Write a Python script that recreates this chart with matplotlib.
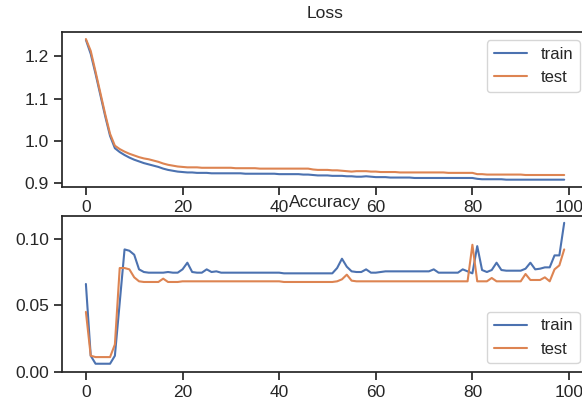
import matplotlib
matplotlib.use('Agg')
import matplotlib.pyplot as plt
import seaborn as sns

sns.set_theme(style='ticks', palette='deep')
plt.rcParams['font.family'] = ['Liberation Sans', 'DejaVu Sans']

epochs = list(range(100))

loss_train = [1.238, 1.205, 1.158, 1.108, 1.058, 1.012, 0.983, 0.974, 0.967, 0.961,
              0.956, 0.952, 0.948, 0.945, 0.942, 0.939, 0.935, 0.932, 0.930, 0.928,
              0.927, 0.926, 0.926, 0.925, 0.925, 0.925, 0.924, 0.924, 0.924, 0.924,
              0.924, 0.924, 0.924, 0.923, 0.923, 0.923, 0.923, 0.923, 0.923, 0.923,
              0.922, 0.922, 0.922, 0.922, 0.922, 0.921, 0.921, 0.920, 0.919, 0.919,
              0.919, 0.918, 0.918, 0.918, 0.917, 0.917, 0.916, 0.916, 0.917, 0.916,
              0.915, 0.915, 0.915, 0.914, 0.914, 0.914, 0.914, 0.914, 0.913, 0.913,
              0.913, 0.913, 0.913, 0.913, 0.913, 0.913, 0.913, 0.913, 0.913, 0.913,
              0.913, 0.911, 0.910, 0.910, 0.910, 0.910, 0.910, 0.909, 0.909, 0.909,
              0.909, 0.909, 0.909, 0.909, 0.909, 0.909, 0.909, 0.909, 0.909, 0.909]

loss_test = [1.240, 1.212, 1.163, 1.113, 1.063, 1.017, 0.989, 0.981, 0.975, 0.970,
             0.966, 0.962, 0.959, 0.957, 0.954, 0.951, 0.947, 0.944, 0.942, 0.940,
             0.939, 0.938, 0.938, 0.938, 0.937, 0.937, 0.937, 0.937, 0.937, 0.937,
             0.937, 0.936, 0.936, 0.936, 0.936, 0.936, 0.935, 0.935, 0.935, 0.935,
             0.935, 0.935, 0.935, 0.935, 0.935, 0.935, 0.935, 0.933, 0.932, 0.932,
             0.932, 0.931, 0.931, 0.930, 0.929, 0.928, 0.929, 0.929, 0.929, 0.928,
             0.928, 0.927, 0.927, 0.927, 0.927, 0.926, 0.926, 0.926, 0.926, 0.926,
             0.926, 0.926, 0.926, 0.926, 0.926, 0.925, 0.925, 0.925, 0.925, 0.925,
             0.925, 0.922, 0.922, 0.921, 0.921, 0.921, 0.921, 0.921, 0.921, 0.921,
             0.921, 0.920, 0.920, 0.920, 0.920, 0.920, 0.920, 0.920, 0.920, 0.920]

acc_train = [0.066, 0.012, 0.006, 0.006, 0.006, 0.006, 0.012, 0.052, 0.092, 0.091,
             0.088, 0.077, 0.075, 0.0745, 0.0745, 0.0745, 0.0745, 0.075, 0.0745, 0.0745,
             0.077, 0.082, 0.075, 0.0745, 0.0745, 0.077, 0.075, 0.0755, 0.0745, 0.0745,
             0.0745, 0.0745, 0.0745, 0.0745, 0.0745, 0.0745, 0.0745, 0.0745, 0.0745, 0.0745,
             0.0745, 0.074, 0.074, 0.074, 0.074, 0.074, 0.074, 0.074, 0.074, 0.074,
             0.074, 0.074, 0.078, 0.085, 0.079, 0.0755, 0.075, 0.075, 0.077, 0.0745,
             0.0745, 0.075, 0.0755, 0.0755, 0.0755, 0.0755, 0.0755, 0.0755, 0.0755, 0.0755,
             0.0755, 0.0755, 0.077, 0.0745, 0.0745, 0.0745, 0.0745, 0.0745, 0.077, 0.0755,
             0.074, 0.0945, 0.0765, 0.075, 0.0765, 0.082, 0.0765, 0.076, 0.076, 0.076,
             0.076, 0.0775, 0.082, 0.077, 0.0775, 0.0785, 0.0785, 0.0875, 0.0875, 0.112]

acc_test = [0.045, 0.012, 0.011, 0.011, 0.011, 0.011, 0.0205, 0.078, 0.078, 0.077,
            0.071, 0.068, 0.0675, 0.0675, 0.0675, 0.0675, 0.070, 0.0675, 0.0675, 0.0675,
            0.068, 0.068, 0.068, 0.068, 0.068, 0.068, 0.068, 0.068, 0.068, 0.068,
            0.068, 0.068, 0.068, 0.068, 0.068, 0.068, 0.068, 0.068, 0.068, 0.068,
            0.068, 0.0675, 0.0675, 0.0675, 0.0675, 0.0675, 0.0675, 0.0675, 0.0675, 0.0675,
            0.0675, 0.0675, 0.068, 0.0695, 0.073, 0.0685, 0.068, 0.068, 0.068, 0.068,
            0.068, 0.068, 0.068, 0.068, 0.068, 0.068, 0.068, 0.068, 0.068, 0.068,
            0.068, 0.068, 0.068, 0.068, 0.068, 0.068, 0.068, 0.068, 0.068, 0.068,
            0.0955, 0.068, 0.068, 0.068, 0.0705, 0.068, 0.068, 0.068, 0.068, 0.068,
            0.068, 0.0735, 0.069, 0.069, 0.069, 0.071, 0.068, 0.077, 0.080, 0.092]

fig = plt.figure(figsize=(5.82, 4.05), dpi=100)
ax1 = fig.add_axes([0.1065, 0.539, 0.904, 0.382])
ax2 = fig.add_axes([0.1065, 0.0822, 0.904, 0.385])

ax1.set_title('Loss', fontsize=12.5, pad=10)
ax1.plot(epochs, loss_train, label='train')
ax1.plot(epochs, loss_test, label='test')
ax1.legend(loc='upper right', fontsize=12)

ax2.set_title('Accuracy', fontsize=12.5)
ax2.plot(epochs, acc_train, label='train')
ax2.plot(epochs, acc_test, label='test')
ax2.legend(loc='lower right', fontsize=12)

for ax in (ax1, ax2):
    ax.tick_params(labelsize=12.5)
ax2.set_yticks([0.0, 0.05, 0.10])

fig.savefig('out.png', dpi=100)
